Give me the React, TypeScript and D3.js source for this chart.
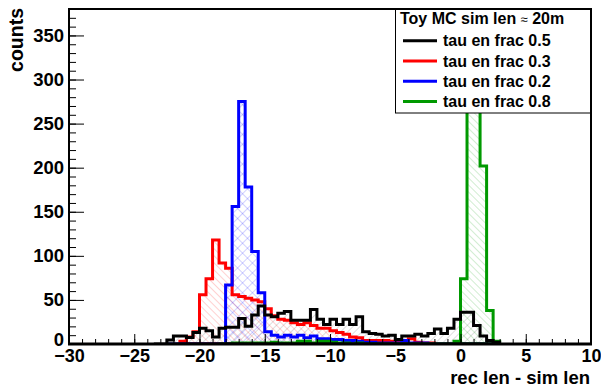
import React, { useEffect, useRef } from "react";
import * as d3 from "d3";

// bin width of all four toy histograms
const binWidth = 0.5;

// tau en frac 0.5 (black)
const blackStart = -23.5;
const blackCounts = [
  0, 0, 4.5, 9, 9, 7.5, 13, 18, 15, 8, 18, 19, 19, 29, 20, 33, 43, 33, 31, 35, 37, 27, 27, 27, 39, 28, 22, 28,
  22, 28, 22, 31, 14, 12, 11, 9, 10, 5, 9, 9, 11, 9, 12, 17, 12, 18, 28, 36, 36, 21, 9, 4, 2,
];

// tau en frac 0.3 (red)
const redStart = -21.5;
const redCounts = [
  3, 8, 14, 56, 74, 118, 92, 86, 56, 54, 52, 50, 48, 40, 32, 28, 27, 24, 22, 24, 21, 18, 18, 15, 13, 11, 8, 7, 4,
  4, 4, 4, 3, 3, 3, 6, 2, 1, 1,
];

// tau en frac 0.2 (blue)
const blueStart = -22.5;
const blueCounts = [
  0, 0, 0, 0, 0, 0, 0, 0, 0, 67, 156, 275, 178, 105, 58, 14, 10, 8, 10, 8, 10, 7, 9, 6, 6, 5, 5, 4, 4, 3, 2, 2, 1,
  1, 1, 1, 4, 1, 1, 1, 0, 0, 0, 0, 0, 0, 0, 0, 0, 0,
];

// tau en frac 0.8 (green)
const greenStart = -18.5;
const greenCounts = [
  0, 0, 1, 1, 1, 1, 1, 1, 2, 1, 1, 1, 3, 3, 1, 3, 3, 2, 1, 1, 0, 1, 0, 0, 0, 0, 0, 0, 0, 0, 0, 0, 0, 0, 0, 0, 3,
  74, 300, 362, 202, 38, 3,
];

const series = [
  { key: "black", label: "tau en frac 0.5", start: blackStart, counts: blackCounts, color: "#000000", hatch: "fwd" },
  { key: "red", label: "tau en frac 0.3", start: redStart, counts: redCounts, color: "#ff0000", hatch: "back" },
  { key: "blue", label: "tau en frac 0.2", start: blueStart, counts: blueCounts, color: "#0000ff", hatch: "cross" },
  { key: "green", label: "tau en frac 0.8", start: greenStart, counts: greenCounts, color: "#009900", hatch: "back" },
];

const xTicks = [-30, -25, -20, -15, -10, -5, 0, 5, 10];
const yTicks = [0, 50, 100, 150, 200, 250, 300, 350];

const font = "'Liberation Sans', Arial, Helvetica, sans-serif";

const App = () => {
  const ref = useRef<SVGSVGElement>(null);

  useEffect(() => {
    const svg = d3.select(ref.current);
    svg.selectAll("*").remove();

    const x = d3.scaleLinear().domain([-30, 10]).range([69, 591]);
    const y = d3.scaleLinear().domain([0, 380]).range([344, 9]);

    const defs = svg.append("defs");
    defs.append("clipPath").attr("id", "frame").append("rect").attr("x", 69).attr("y", 9).attr("width", 522).attr("height", 335);

    series.forEach((s) => {
      const p = defs
        .append("pattern")
        .attr("id", `hatch-${s.key}`)
        .attr("patternUnits", "userSpaceOnUse")
        .attr("width", s.hatch === "cross" ? 7 : 5)
        .attr("height", s.hatch === "cross" ? 7 : 5)
        .attr("patternTransform", s.hatch === "back" ? "rotate(-45)" : "rotate(45)");
      const op = s.key === "black" ? 0.22 : 0.3;
      p.append("line").attr("x1", 0).attr("y1", 0).attr("x2", 0).attr("y2", 7)
        .attr("stroke", s.color).attr("stroke-width", 1.2).attr("stroke-opacity", op);
      if (s.hatch === "cross") {
        p.append("line").attr("x1", 0).attr("y1", 0).attr("x2", 7).attr("y2", 0)
          .attr("stroke", s.color).attr("stroke-width", 1.2).attr("stroke-opacity", op);
      }
    });

    const stepPath = (start: number, counts: number[]) => {
      const path = d3.path();
      path.moveTo(x(start), y(0));
      counts.forEach((c, i) => {
        const lo = start + i * binWidth;
        path.lineTo(x(lo), y(c));
        path.lineTo(x(lo + binWidth), y(c));
      });
      path.lineTo(x(start + counts.length * binWidth), y(0));
      path.closePath();
      return path.toString();
    };

    const plot = svg.append("g").attr("clip-path", "url(#frame)");

    series.forEach((s) => {
      plot.append("path").attr("d", stepPath(s.start, s.counts)).attr("fill", `url(#hatch-${s.key})`).attr("stroke", "none");
    });

    ["red", "blue", "green", "black"].forEach((k) => {
      const s = series.find((d) => d.key === k)!;
      plot
        .append("path")
        .attr("d", stepPath(s.start, s.counts))
        .attr("fill", "none")
        .attr("stroke", s.color)
        .attr("stroke-width", 3)
        .attr("stroke-linejoin", "miter");
    });

    // frame
    svg.append("rect").attr("x", 69).attr("y", 9).attr("width", 522).attr("height", 335)
      .attr("fill", "none").attr("stroke", "#000").attr("stroke-width", 2);

    // x axis
    const xMinor = d3.range(-30, 10.01, 1);
    svg.append("g").attr("transform", "translate(0,344)")
      .call(d3.axisBottom(x).tickValues(xMinor).tickSize(-5).tickFormat(() => ""))
      .call((g) => g.select(".domain").remove());
    const gx = svg.append("g").attr("transform", "translate(0,344)")
      .call(d3.axisBottom(x).tickValues(xTicks).tickSize(-10).tickPadding(5).tickFormat(d3.format("d")));
    gx.select(".domain").remove();
    gx.selectAll("text").attr("font-family", font).attr("font-weight", "bold").attr("font-size", 18).attr("fill", "#000");
    svg.append("line").attr("x1", 68).attr("x2", 592).attr("y1", 344).attr("y2", 344).attr("stroke", "#000").attr("stroke-width", 3);

    // y axis
    const yMinor = d3.range(0, 380, 10);
    svg.append("g").attr("transform", "translate(69,0)")
      .call(d3.axisLeft(y).tickValues(yMinor).tickSize(-7).tickFormat(() => ""))
      .call((g) => g.select(".domain").remove());
    const gy = svg.append("g").attr("transform", "translate(69,0)")
      .call(d3.axisLeft(y).tickValues(yTicks).tickSize(-15).tickPadding(5).tickFormat(d3.format("d")));
    gy.select(".domain").remove();
    gy.selectAll("text").attr("font-family", font).attr("font-weight", "bold").attr("font-size", 18.5).attr("fill", "#000");
    gy.selectAll<SVGTextElement, number>("text").filter((d) => d === 0).attr("dy", "0.1em");
    svg.selectAll(".tick line").attr("stroke", "#000").attr("stroke-width", 1);

    // axis titles
    svg.append("text").attr("x", 590).attr("y", 383.5).attr("text-anchor", "end")
      .attr("font-family", font).attr("font-weight", "bold").attr("font-size", 18.5).text("rec len - sim len");
    svg.append("text").attr("transform", "translate(23,8) rotate(-90)").attr("text-anchor", "end")
      .attr("font-family", font).attr("font-weight", "bold").attr("font-size", 19.5).text("counts");

    // legend
    const lg = svg.append("g");
    lg.append("rect").attr("x", 395.5).attr("y", 9.5).attr("width", 195).attr("height", 103.5)
      .attr("fill", "#fff").attr("stroke", "#000").attr("stroke-width", 1);
    const head = lg.append("text").attr("x", 400).attr("y", 24)
      .attr("font-family", font).attr("font-weight", "bold").attr("font-size", 16);
    head.append("tspan").text("Toy MC sim len ");
    head.append("tspan").attr("font-size", 13).attr("font-weight", "normal").text("≈");
    head.append("tspan").text(" 20m");
    series.forEach((s, i) => {
      const cy = 40.7 + i * 20.3;
      lg.append("line").attr("x1", 403).attr("x2", 437).attr("y1", cy).attr("y2", cy)
        .attr("stroke", s.color).attr("stroke-width", 3);
      lg.append("text").attr("x", 443).attr("y", cy + 5.5)
        .attr("font-family", font).attr("font-weight", "bold").attr("font-size", 16).text(s.label);
    });
  }, []);

  return (
    <svg
      ref={ref}
      width={601}
      height={388}
      style={{ position: "absolute", left: 0, top: 0, background: "#fff" }}
    ></svg>
  );
};

export default App;
